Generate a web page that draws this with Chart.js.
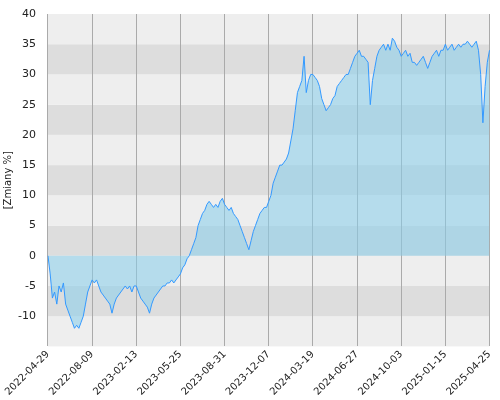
<!DOCTYPE html>
<html>
<head>
<meta charset="utf-8">
<script src="https://cdn.jsdelivr.net/npm/chart.js@4"></script>
<style>
body{margin:0;background:#fff;}
#wrap{width:500px;height:400px;}
</style>
</head>
<body>
<div id="wrap"><canvas id="c"></canvas></div>
<script>
var tickDates = ['2022-04-29','2022-08-09','2023-02-13','2023-05-25','2023-08-31','2023-12-07','2024-03-19','2024-06-27','2024-10-03','2025-01-15','2025-04-25'];
var values = [
 0,-3,-7,-6,-8,-5,-6,-4.5,-8,-9,-10,-11,-12,-11.5,-12,-11,-10,-8,-6,-5,
 -4,-4.5,-4,-5,-6,-6.5,-7,-7.5,-8,-9.5,-8,-7,-6.5,-6,-5.5,-5,-5.5,-5,-6,-5,
 -5,-6,-7,-7.5,-8,-8.5,-9.5,-8,-7,-6.5,-6,-5.5,-5,-5,-4.5,-4.5,-4,-4.5,-4,-3.5,
 -3,-2,-1.5,-0.5,0,1,2,3,5,6,7,7.5,8.5,9,8.5,8,8.5,8,9,9.5,
 8.5,8,7.5,8,7,6.5,6,5,4,3,2,1,2.5,4,5,6,7,7.5,8,8,
 9,10,12,13,14,15,15,15.5,16,17,19,21,24,27,28,29,33,27,29,30,
 30,29.5,29,28,26,25,24,24.5,25,26,26.5,28,28.5,29,29.5,30,30,31,32,33,
 33.5,34,33,33,32.5,32,25,29,31,33,34,34.5,35,34,35,34,36,35.5,34.5,34,
 33,33.5,34,33,33.5,32,32,31.5,32,32.5,33,32,31,32,33,33.5,34,33,34,34,
 35,34,34.5,35,34,34.5,35,34.5,35,35,35.5,35,34.5,35,35.5,34,30,22,28,32,34
];
var step = 20;
var labels = [];
for (var i = 0; i < values.length; i++) {
    labels.push(i % step == 0 ? tickDates[i / step] : '');
}

var bands = {
    id: 'bands',
    beforeDraw: function(chart) {
        var ctx = chart.ctx, a = chart.chartArea, y = chart.scales.y;
        for (var k = -15; k < 40; k += 5) {
            var top = y.getPixelForValue(k + 5), bot = y.getPixelForValue(k);
            ctx.fillStyle = (k / 5) % 2 == 0 ? '#dddddd' : '#eeeeee';
            ctx.fillRect(a.left, top, a.right - a.left, bot - top);
        }
    }
};

new Chart(document.getElementById('c'), {
    type: 'line',
    data: {
        labels: labels,
        datasets: [{
            data: values,
            borderColor: '#3399ff',
            borderWidth: 1,
            backgroundColor: 'rgba(135,206,235,0.55)',
            fill: 'origin',
            pointRadius: 0,
            tension: 0
        }]
    },
    options: {
        responsive: true,
        maintainAspectRatio: false,
        animation: false,
        layout: {padding: {right: -10, top: 14, left: 2}},
        plugins: {legend: {display: false}, tooltip: {enabled: false}},
        scales: {
            x: {
                grid: {color: '#aaaaaa', drawTicks: false, offset: false},
                border: {display: false},
                ticks: {
                    autoSkip: false, maxRotation: 45, minRotation: 45,
                    color: '#222', font: {family: 'DejaVu Sans', size: 10}, padding: 2,
                    callback: function(v, i) { return labels[i] || null; }
                }
            },
            y: {
                min: -15, max: 40,
                grid: {display: false},
                border: {display: false},
                title: {display: true, text: '[Zmiany %]', color: '#222', font: {family: 'DejaVu Sans', size: 10}, padding: 0},
                ticks: {
                    stepSize: 5, color: '#222', font: {family: 'DejaVu Sans', size: 11}, padding: 4,
                    callback: function(v) { return v == -15 ? '' : v; }
                }
            }
        }
    },
    plugins: [bands]
});
</script>
</body>
</html>
